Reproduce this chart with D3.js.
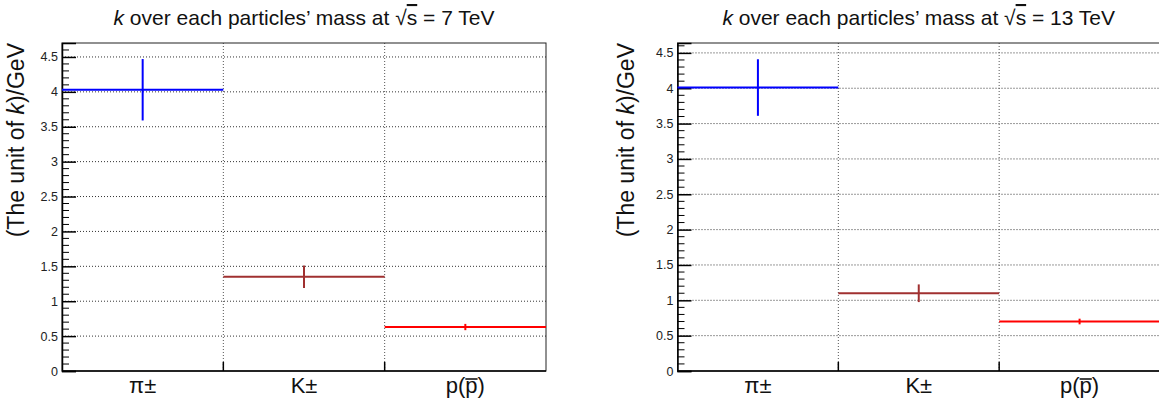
<!DOCTYPE html>
<html>
<head>
<meta charset="utf-8">
<script src="https://cdn.jsdelivr.net/npm/d3@7"></script>
<style>
  body { margin: 0; background: #fff; }
  svg  { display: block; font-family: "Liberation Sans", Arial, Helvetica, sans-serif; }
</style>
</head>
<body>
<svg id="chart" width="1159" height="408"></svg>
<script>
// bins shared by both panels
var particles  = ["pi", "K", "p"];
var binColors  = ["#0000ff", "#a03030", "#ff0000"];

// values, k / mass
var values7    = [4.03, 1.35, 0.63];
var errors7    = [0.44, 0.16, 0.045];
var values13   = [4.01, 1.10, 0.70];
var errors13   = [0.40, 0.125, 0.04];

var yTicks     = [0, 0.5, 1, 1.5, 2, 2.5, 3, 3.5, 4, 4.5];
var yTickText  = ["0", "0.5", "1", "1.5", "2", "2.5", "3", "3.5", "4", "4.5"];

var svg = d3.select("#chart");

var panels = [
  { energy: "7",  values: values7,  errors: errors7,  left: 62,    right: 546,  ymax: 4.70, titleX: 16 },
  { energy: "13", values: values13, errors: errors13, left: 677.5, right: 1160, ymax: 4.64, titleX: 626 }
];

var plotTop = 43, plotBottom = 371;

// overline drawn by hand over one tspan, at a given height above the baseline
function overline(g, text, part, lift, fontSize)
{
  var node  = text.node();
  var start = node.getStartPositionOfChar(part.start);
  var end   = node.getEndPositionOfChar(part.end);
  g.append("line")
    .attr("x1", start.x).attr("x2", end.x)
    .attr("y1", start.y - lift).attr("y2", start.y - lift)
    .attr("stroke", "#111").attr("stroke-width", fontSize / 14);
}

panels.forEach(function (p) {
  var g = svg.append("g");

  var x = d3.scaleLinear().domain([0, particles.length]).range([p.left, p.right]);
  var y = d3.scaleLinear().domain([0, p.ymax]).range([plotBottom, plotTop]);

  // grid
  g.selectAll("line.hgrid").data(yTicks.filter(function (d) { return d > 0; }))
    .enter().append("line")
    .attr("x1", p.left).attr("x2", p.right)
    .attr("y1", function (d) { return y(d); }).attr("y2", function (d) { return y(d); })
    .attr("stroke", "#333").attr("stroke-width", 1).attr("stroke-dasharray", "1,2");

  g.selectAll("line.vgrid").data([1, 2])
    .enter().append("line")
    .attr("x1", function (d) { return x(d); }).attr("x2", function (d) { return x(d); })
    .attr("y1", plotTop).attr("y2", plotBottom)
    .attr("stroke", "#555").attr("stroke-width", 1).attr("stroke-dasharray", "1,2");

  // frame
  g.append("rect")
    .attr("x", p.left).attr("y", plotTop)
    .attr("width", p.right - p.left).attr("height", plotBottom - plotTop)
    .attr("fill", "none").attr("stroke", "#222").attr("stroke-width", 1);

  // y axis with ROOT style ticks
  var yAxis = d3.axisRight(y).tickValues(yTicks).tickSize(14)
    .tickFormat(function (d, i) { return yTickText[i]; });
  var ya = g.append("g").attr("transform", "translate(" + p.left + ",0)").call(yAxis);
  ya.select(".domain").attr("stroke", "#000").attr("stroke-width", 1.5);
  ya.selectAll(".tick line").attr("stroke", "#000").attr("stroke-width", 1.5);
  ya.selectAll(".tick text")
    .attr("x", -4).attr("text-anchor", "end")
    .attr("font-size", 12.5).attr("fill", "#222")
    .attr("font-family", "Liberation Sans, Arial, sans-serif");

  var minor = d3.range(0, p.ymax, 0.1).filter(function (d) {
    return Math.abs(d * 2 - Math.round(d * 2)) > 1e-6;
  });
  g.selectAll("line.minor").data(minor)
    .enter().append("line")
    .attr("x1", p.left).attr("x2", p.left + 7)
    .attr("y1", function (d) { return y(d); }).attr("y2", function (d) { return y(d); })
    .attr("stroke", "#000").attr("stroke-width", 1);

  // x axis
  g.append("line")
    .attr("x1", p.left).attr("x2", p.right).attr("y1", plotBottom).attr("y2", plotBottom)
    .attr("stroke", "#000").attr("stroke-width", 1.5);
  g.selectAll("line.xtick").data([1, 2])
    .enter().append("line")
    .attr("x1", function (d) { return x(d); }).attr("x2", function (d) { return x(d); })
    .attr("y1", plotBottom).attr("y2", plotBottom - 9)
    .attr("stroke", "#000").attr("stroke-width", 1.5);

  // bin labels
  var labels = g.selectAll("text.bin").data(particles)
    .enter().append("text")
    .attr("x", function (d, i) { return x(i + 0.5); })
    .attr("y", 393)
    .attr("text-anchor", "middle")
    .attr("font-size", 22).attr("fill", "#111");
  labels.each(function (d) {
    var t = d3.select(this);
    if (d == "pi") t.text("\u03c0\u00b1");
    else if (d == "K") t.text("K\u00b1");
    else {
      t.text("p(p)");
      overline(g, t, { start: 2, end: 2 }, 14, 22);
    }
  });

  // data: horizontal bin line plus error bar
  var marks = g.selectAll("g.bin").data(p.values).enter().append("g");
  marks.append("line")
    .attr("x1", function (d, i) { return x(i); })
    .attr("x2", function (d, i) { return x(i + 1); })
    .attr("y1", function (d) { return y(d); }).attr("y2", function (d) { return y(d); })
    .attr("stroke", function (d, i) { return binColors[i]; }).attr("stroke-width", 2);
  marks.append("line")
    .attr("x1", function (d, i) { return x(i + 0.5); })
    .attr("x2", function (d, i) { return x(i + 0.5); })
    .attr("y1", function (d, i) { return y(d + p.errors[i]); })
    .attr("y2", function (d, i) { return y(d - p.errors[i]); })
    .attr("stroke", function (d, i) { return binColors[i]; }).attr("stroke-width", 2);

  // y title
  var yt = g.append("text")
    .attr("transform", "translate(" + (p.titleX + 8) + "," + plotTop + ") rotate(-90)")
    .attr("text-anchor", "end").attr("font-size", 23).attr("fill", "#111");
  yt.append("tspan").text("(The unit of ");
  yt.append("tspan").attr("font-style", "italic").text("k");
  yt.append("tspan").text(")/GeV");

  // title
  var tt = g.append("text")
    .attr("x", (p.left + p.right) / 2).attr("y", 25)
    .attr("text-anchor", "middle").attr("font-size", 21).attr("fill", "#111");
  tt.append("tspan").attr("font-style", "italic").text("k");
  tt.append("tspan").text(" over each particles\u2019 mass at  \u221a");
  tt.append("tspan").attr("text-decoration", "overline").text("s");
  tt.append("tspan").text(" = " + p.energy + " TeV");
});
</script>
</body>
</html>
